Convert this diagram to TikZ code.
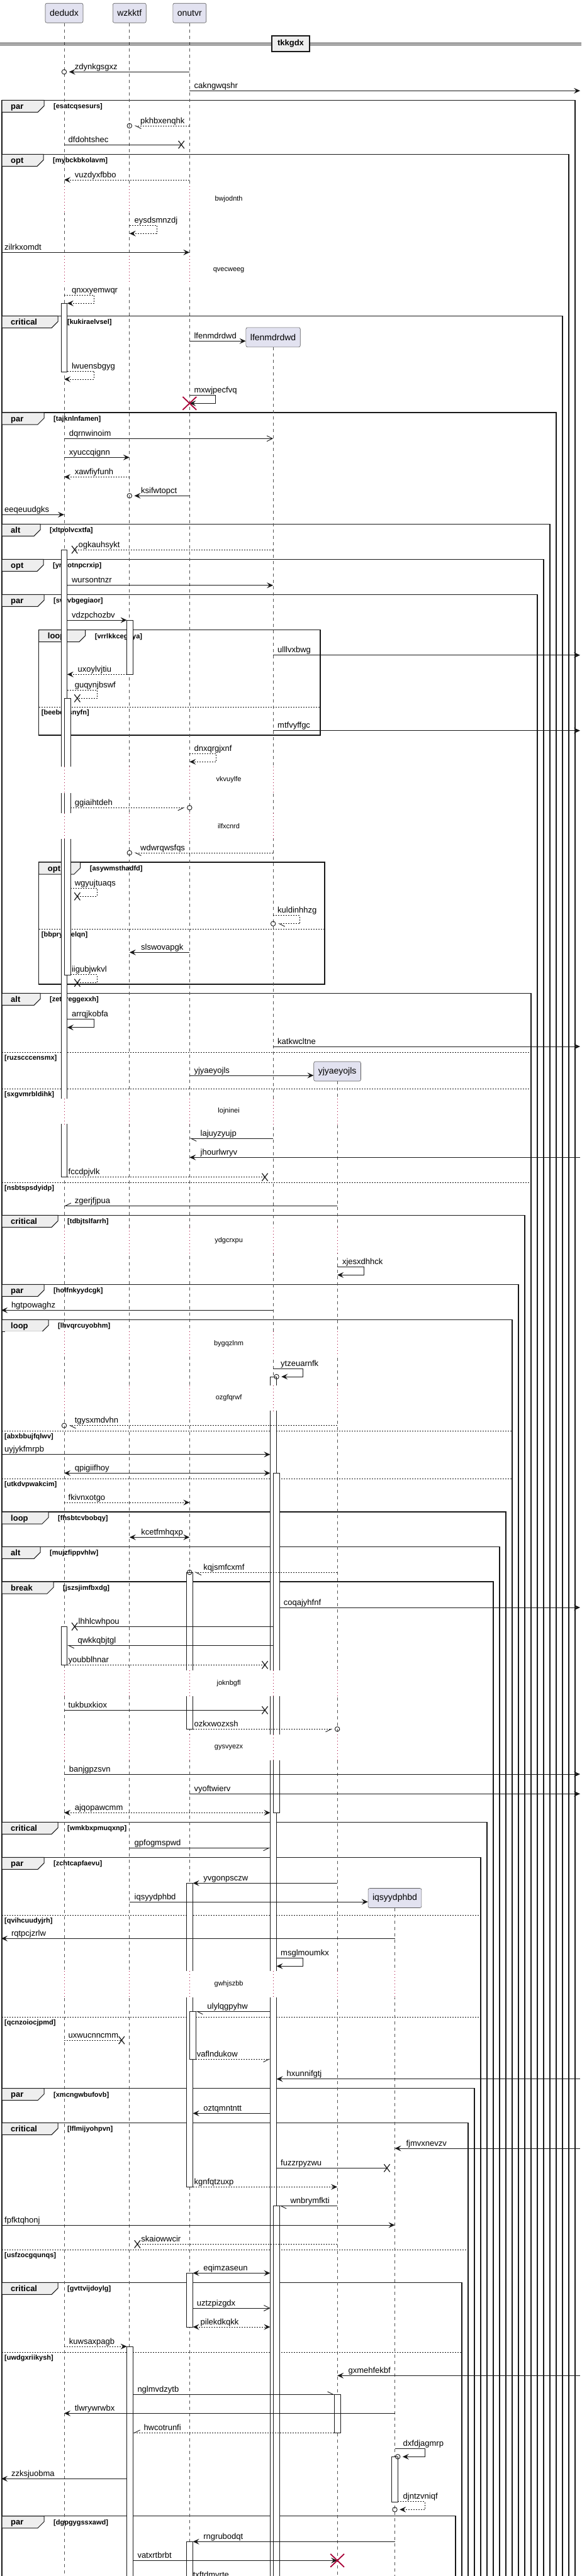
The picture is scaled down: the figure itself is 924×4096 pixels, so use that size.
\documentclass[tikz,border=0pt]{standalone}
\usepackage{fontspec}
\setmainfont{Liberation Sans}
\usepackage{xcolor}
\usepackage{tikz}
\usetikzlibrary{arrows.meta, calc, shapes.misc}

\definecolor{partfill}{HTML}{E2E2F0}
\definecolor{tabfill}{HTML}{EEEEEE}
\definecolor{delayred}{HTML}{A80036}
\definecolor{ink}{HTML}{181818}

\tikzset{
  part/.style={draw=ink!70, fill=partfill, rounded corners=2.5pt, line width=0.6pt,
    minimum height=31pt, inner xsep=7pt, font=\fontsize{14}{16}\selectfont},
  life/.style={draw=ink!75, line width=0.7pt, dash pattern=on 5pt off 5pt},
  dly/.style={draw=delayred, line width=0.9pt, dash pattern=on 1pt off 4pt},
  actbar/.style={draw=ink, fill=white, line width=0.8pt},
  frm/.style={draw=ink, line width=1.3pt},
  tab/.style={draw=ink, fill=tabfill, line width=1pt},
  sepl/.style={draw=ink, line width=0.8pt, dash pattern=on 2pt off 2pt},
  divbox/.style={draw=ink, fill=tabfill, line width=1.3pt, minimum width=60pt,
    minimum height=25pt, font=\bfseries\fontsize{13}{15}\selectfont},
  msgtxt/.style={font=\fontsize{13}{15}\selectfont, anchor=base west, inner sep=0pt},
  dlytxt/.style={font=\fontsize{11}{13}\selectfont, inner sep=0pt},
  condtxt/.style={font=\bfseries\fontsize{11}{13}\selectfont, anchor=base west, inner sep=0pt},
  tabtxt/.style={font=\bfseries\fontsize{13}{15}\selectfont, anchor=base west, inner sep=0pt},
  plain/.style={draw=ink, line width=0.9pt},
  rplain/.style={plain, dash pattern=on 2pt off 2pt},
  sync/.style={plain, -{Stealth[length=10pt,width=9pt,inset=4pt]}},
  rsync/.style={sync, dash pattern=on 2pt off 2pt},
  async/.style={plain, -{Straight Barb[length=9pt,width=9pt]}},
  half/.style={plain, -{Straight Barb[length=9pt,width=9pt,harpoon]}},
  halfs/.style={plain, -{Straight Barb[length=9pt,width=9pt,harpoon,swap]}},
  dhalf/.style={half, dash pattern=on 2pt off 2pt},
  dhalfs/.style={halfs, dash pattern=on 2pt off 2pt},
  both/.style={plain, {Stealth[length=10pt,width=9pt,inset=4pt]}-{Stealth[length=10pt,width=9pt,inset=4pt]}},
  rboth/.style={both, dash pattern=on 2pt off 2pt},
  xmark/.style={cross out, draw=ink, line width=1.2pt, minimum width=8pt, minimum height=11pt, inner sep=0pt},
  omark/.style={circle, draw=ink, line width=0.9pt, minimum size=7.5pt, inner sep=0pt},
  kill/.style={cross out, draw=delayred, line width=1.8pt, minimum width=20pt, minimum height=19pt, inner sep=0pt},
}

\newcounter{el}
\def\tabwpar{67}\def\tabwopt{66}\def\tabwalt{61}
\def\tabwcritical{89}\def\tabwloop{74}\def\tabwbreak{82}

% message: style, from, to, y, label x, text
\newcommand\smsg[6][sync]{\stepcounter{el}%
  \draw[#1] (#2 |- 0,#4) -- (#3 |- 0,#4);
  \node[msgtxt] (t\theel) at (#5,#4-4) {#6};}
% message ending in a circle
\newcommand\omsg[6][sync]{\stepcounter{el}%
  \node[omark] (o\theel) at (#3 |- 0,#4) {};
  \draw[#1, shorten >=3.5pt] (#2 |- 0,#4) -- (o\theel);
  \node[msgtxt] (t\theel) at (#5,#4-4) {#6};}
% message ending in a cross (cross x given)
\newcommand\xmsg[6][plain]{\stepcounter{el}%
  \node[xmark] (x\theel) at (#3,#4) {};
  \draw[#1] (#2 |- 0,#4) -- (x\theel.center);
  \node[msgtxt] (t\theel) at (#5,#4-4) {#6};}
% self message: style, from, y, loop x, back to, label x, text
\newcommand\selfmsg[7][sync]{\stepcounter{el}%
  \draw[#1] (#2 |- 0,#3) -- (#4,#3) |- (#5 |- 0,#3+13);
  \node[msgtxt] (t\theel) at (#6,#3-4) {#7};}
\newcommand\oself[7][sync]{\stepcounter{el}%
  \node[omark] (o\theel) at (#5 |- 0,#3+13) {};
  \draw[#1, shorten >=3.5pt] (#2 |- 0,#3) -- (#4,#3) |- (o\theel);
  \node[msgtxt] (t\theel) at (#6,#3-4) {#7};}
\newcommand\xself[7][plain]{\stepcounter{el}%
  \node[xmark] (x\theel) at (#5,#3+13) {};
  \draw[#1] (#2 |- 0,#3) -- (#4,#3) |- (x\theel.center);
  \node[msgtxt] (t\theel) at (#6,#3-4) {#7};}
% group frame: left, top, right, bottom, kind, condition
\newcommand\grpframe[6]{\stepcounter{el}%
  \draw[frm] (#1,#2) rectangle (#3,#4);
  \draw[tab] (#1,#2) -- ++(\csname tabw#5\endcsname,0) -- ++(0,9) -- ++(-10,10) -- (#1,#2+19) -- cycle;
  \node[tabtxt] (k\theel) at (#1+14,#2+14) {#5};
  \node[condtxt] (g\theel) at (#1+\csname tabw#5\endcsname+15,#2+13.4) {[#6]};}
% else separator: left, right, y, condition
\newcommand\grpsep[4]{\stepcounter{el}%
  \draw[sepl] (#1,#3) -- (#2,#3);
  \node[condtxt] (g\theel) at (#1+4,#3+12.5) {[#4]};}

\begin{document}
\begin{tikzpicture}[x=1pt,y=-1pt]
\useasboundingbox (0,0) rectangle (924,4096);

% --- PARTICIPANTS ---
\node[part] (dedudx) at (102,20.7) {dedudx};
\node[part] (wzkktf) at (205.8,20.7) {wzkktf};
\node[part] (onutvr) at (301.3,20.7) {onutvr};
\node[part] (lfenmdrdwd) at (434.1,536.3) {lfenmdrdwd};
\node[part] (yjyaeyojls) at (536.1,1703.5) {yjyaeyojls};
\node[part] (iqsyydphbd) at (627.5,3018) {iqsyydphbd};

\coordinate (edgeW) at (2,0);
\coordinate (edgeE) at (922,0);
\coordinate (dA) at (106.8,0);
\coordinate (dB) at (112.1,0);
\coordinate (wL) at (201.6,0);
\coordinate (wR) at (211.7,0);
\coordinate (oR) at (306.6,0);
\coordinate (oRR) at (311.4,0);
\coordinate (lL) at (429.4,0);
\coordinate (lR) at (439.5,0);
\coordinate (lRR) at (444.2,0);
\coordinate (yL) at (531.4,0);
\coordinate (iR) at (632.2,0);

% --- GROUPS ---
\foreach \gl/\gt/\gr/\gb/\gk/\gc in {
  3/159.3/914/4110/par/esatcqsesurs, 3/245.3/904/4110/opt/mybckbkolavm,
  3/502.3/894/4110/critical/kukiraelvsel, 3/656/884/4110/par/tajknlnfamen,
  3/833.3/874/4110/alt/xltpolvcxtfa, 3/889.3/864/4110/opt/ynhotnpcrxip,
  3/945.3/854/4110/par/svavbgegiaor, 61.7/1001.7/509/1169/loop/vrrlkkcegdya,
  61.7/1371/516/1565/opt/asywmsthadfd, 3/1579.3/844/4110/alt/zetvreggexxh,
  3/1932.3/834/4110/critical/tdbjtslfarrh, 3/2042.3/824/4110/par/holfnkyydcgk,
  3/2098.3/814/4110/loop/lhvqrcuyobhm, 3/2404/804/4110/loop/fhsbtcvbobqy,
  3/2459.3/794/4110/alt/mujzfippvhlw, 3/2515/784/4110/break/jszsjimfbxdg,
  3/2897.3/774/4110/critical/wmkbxpmuqxnp, 3/2953.3/764/4110/par/zchtcapfaevu,
  3/3320.7/754/4110/par/xmcngwbufovb, 3/3375.3/744/4110/critical/lflmijyohpvn,
  3/3629.3/734/4110/critical/gvttvijdoylg, 3/4000.7/724/4110/par/dgpgygssxawd} {
  \grpframe{\gl}{\gt}{\gr}{\gb}{\gk}{\gc}
}
\foreach \gl/\gr/\gy/\gc in {
  61.7/509/1124.3/beebettsnyfn, 61.7/516/1477.3/bbprynselqn,
  3/844/1673.3/ruzscccensmx, 3/844/1731.3/sxgvmrbldihk, 3/844/1880.3/nsbtspsdyidp,
  3/814/2275.3/abxbbujfqlwv, 3/814/2351.3/utkdvpwakcim,
  3/764/3045/qvihcuudyjrh, 3/764/3207/qcnzoiocjpmd,
  3/744/3577.3/usfzocgqunqs, 3/734/3740/uwdgxriikysh} {
  \grpsep{\gl}{\gr}{\gy}{\gc}
}

% --- LIFELINES ---
\foreach \p in {dedudx,wzkktf,onutvr,lfenmdrdwd,yjyaeyojls,iqsyydphbd}
  \draw[life] (\p) -- (\p |- 0,4110);

% --- ACTIVATIONS ---
\foreach \xa/\ya/\xb/\yb in {
  97.3/482.3/106.8/591, 97.3/874/106.8/1871.7, 102/1110/112.1/1550,
  201.6/986/211.7/1072.3, 97.3/2586.3/106.8/2647.3, 296.6/2500/306.6/2749.3,
  296.6/2994.3/306.6/3477.3, 301.3/3198.3/311.4/3274.3, 296.6/3614.3/306.6/3700,
  296.6/4041.3/306.6/4110, 201.6/3731/211.7/4110, 429.4/2189.3/439.5/4110,
  434.1/2342.3/444.2/2882.3, 434.1/3507.3/444.2/4110, 531.4/3807.3/541.5/3868.3,
  622.7/3906/632.2/3978.3}
  \draw[actbar] (\xa,\ya) rectangle (\xb,\yb);

% --- DELAYS ---
\foreach \ya/\yb/\txt in {296/338/bwjodnth, 406.7/451.7/qvecweeg,
  1219.3/1260.7/vkvuylfe, 1292.7/1334/ilfxcnrd, 1746.7/1787.3/lojninei,
  1952/1993/ydgcrxpu, 2116.7/2156.7/bygqzlnm, 2202.7/2243.3/ozgfqrwf,
  2656/2696.7/joknbgfl, 2757.7/2799/gysvyezx, 3134/3176/gwhjszbb} {
  \fill[white] (8,\ya) rectangle (700,\yb);
  \foreach \p/\s in {dedudx/0, wzkktf/0, onutvr/0, lfenmdrdwd/552.3,
                     yjyaeyojls/1719.3, iqsyydphbd/3033.3} {
    \ifdim\ya pt>\s pt \draw[dly] (\p |- 0,\ya) -- (\p |- 0,\yb); \fi
  }
  \node[dlytxt] (d\txt) at (363.6,{(\ya+\yb)/2}) {\txt};
}

% --- DIVIDER ---
\draw[line width=1pt] (0,68.3) -- (924,68.3) (0,71) -- (924,71);
\node[divbox] (tkkgdx) at (462,69.4) {tkkgdx};

% --- MESSAGES ---
\omsg{onutvr}{dedudx}{114.3}{118.6}{zdynkgsgxz}
\smsg{onutvr}{edgeE}{144.3}{308.4}{cakngwqshr}
\omsg[dhalf]{onutvr}{wzkktf}{200}{223}{pkhbxenqhk}
\xmsg{dedudx}{288.2}{230}{108.5}{dfdohtshec}
\smsg[rsync]{onutvr}{dedudx}{286}{118.6}{vuzdyxfbbo}
\selfmsg[rsync]{wzkktf}{358.3}{249}{wzkktf}{213.5}{eysdsmnzdj}
\smsg{edgeW}{onutvr}{401.3}{7}{zilrkxomdt}
\selfmsg[rsync]{dedudx}{469.3}{149.5}{dA}{113.9}{qnxxyemwqr}
\smsg{onutvr}{lfenmdrdwd.west}{542.3}{308.4}{lfenmdrdwd}
\selfmsg[rsync]{dA}{590}{149.5}{dedudx}{113.9}{lwuensbgyg}
\selfmsg{onutvr}{628.3}{342.8}{onutvr}{308.4}{mxwjpecfvq}
\node[kill] (killo) at (301.3,641.3) {};

\smsg[async]{dedudx}{lfenmdrdwd}{697.3}{109.7}{dqrnwinoim}
\smsg{dedudx}{wzkktf}{727.3}{109.7}{xyuccqignn}
\smsg[rsync]{wzkktf}{dedudx}{758.3}{118.6}{xawfiyfunh}
\omsg{onutvr}{wzkktf}{788.3}{224}{ksifwtopct}
\smsg{edgeW}{dedudx}{818.3}{7}{eeqeuudgks}
\xmsg[rplain]{lfenmdrdwd}{118.6}{874}{124.5}{ogkauhsykt}
\smsg{dA}{lfenmdrdwd}{930.7}{113.9}{wursontnzr}
\smsg{dA}{wL}{986}{113.9}{vdzpchozbv}

\smsg{lfenmdrdwd}{edgeE}{1041.7}{441}{ulllvxbwg}
\smsg[rsync]{wL}{dA}{1072.3}{123.4}{uxoylvjtiu}
\xself[rplain]{dA}{1097.3}{154.2}{122.8}{118.6}{guqynjbswf}
\smsg{lfenmdrdwd}{edgeE}{1161.7}{441}{mtfvyffgc}
\selfmsg[rsync]{onutvr}{1198.3}{343.4}{onutvr}{308.4}{dnxqrgjxnf}
\omsg[dhalfs]{dB}{onutvr}{1284.3}{118.6}{ggiaihtdeh}
\omsg[dhalf]{lfenmdrdwd}{wzkktf}{1356}{223}{wdwrqwsfqs}

\xself[rplain]{dB}{1412.3}{154.2}{122.8}{118.6}{wgyujtuaqs}
\oself[dhalf]{lfenmdrdwd}{1455.7}{476.3}{lfenmdrdwd}{441}{kuldinhhzg}
\smsg{onutvr}{wzkktf}{1514.3}{224}{slswovapgk}
\xself[rplain]{dB}{1549.7}{154.2}{122.8}{113.9}{iigubjwkvl}
\selfmsg{dA}{1620.7}{149.5}{dA}{113.9}{arrqjkobfa}
\smsg{lfenmdrdwd}{edgeE}{1664}{441}{katkwcltne}
\smsg{onutvr}{yjyaeyojls.west}{1710}{308.4}{yjyaeyojls}

\smsg[half]{lfenmdrdwd}{onutvr}{1810}{318.5}{lajuyzyujp}
\smsg{edgeE}{onutvr}{1840.3}{318.5}{jhourlwryv}
\xmsg[rplain]{dA}{421}{1871.7}{108.5}{fccdpjvlk}
\smsg[halfs]{yjyaeyojls}{dedudx}{1917.3}{118.6}{zgerjfjpua}
\selfmsg{yjyaeyojls}{2014.3}{578.9}{yjyaeyojls}{543.9}{xjesxdhhck}

\smsg{lfenmdrdwd}{edgeW}{2083.3}{17.8}{hgtpowaghz}
\oself{lfenmdrdwd}{2176}{481.6}{lR}{446}{ytzeuarnfk}
\omsg[dhalf]{yjyaeyojls}{dedudx}{2266.7}{118.6}{tgysxmdvhn}
\smsg{edgeW}{lL}{2312.7}{7}{uyjykfmrpb}
\smsg[both]{dedudx}{lL}{2342.3}{118.6}{qpigiifhoy}
\smsg[rsync]{dedudx}{onutvr}{2389}{108.5}{fkivnxotgo}

\smsg[both]{wzkktf}{onutvr}{2444.3}{224.2}{kcetfmhqxp}
\omsg[dhalf]{yjyaeyojls}{onutvr}{2500}{323.2}{kqjsmfcxmf}
\smsg{lRR}{edgeE}{2556}{450.7}{coqajyhfnf}
\xmsg{lfenmdrdwd}{118.6}{2586.3}{124.5}{lhhlcwhpou}
\smsg[half]{lfenmdrdwd}{dA}{2616.3}{123.4}{qwkkqbjtgl}
\xmsg[rplain]{dA}{421}{2647.3}{108.5}{youbblhnar}
\xmsg{dedudx}{421}{2719.3}{108.5}{tukbuxkiox}

\omsg[dhalfs]{oR}{yjyaeyojls}{2749.3}{308.4}{ozkxwozxsh}
\smsg{dedudx}{edgeE}{2821}{109.7}{banjgpzsvn}
\smsg{onutvr}{edgeE}{2852.3}{308.4}{vyoftwierv}
\smsg[rboth]{dedudx}{lL}{2882.3}{118.6}{ajqopawcmm}
\smsg[halfs]{wzkktf}{lL}{2938.3}{213.5}{gpfogmspwd}
\smsg{yjyaeyojls}{oR}{2994.3}{323.2}{yvgonpsczw}
\smsg{wzkktf}{iqsyydphbd.west}{3024}{213.5}{iqsyydphbd}

\smsg{iqsyydphbd}{edgeW}{3082.3}{17.8}{rqtpcjzrlw}
\selfmsg{lR}{3113.3}{481.6}{lR}{446}{msglmoumkx}
\smsg[half]{lL}{oRR}{3198.3}{329.2}{ulylqgpyhw}
\xmsg[rplain]{dedudx}{193.3}{3244}{108.5}{uxwucnncmm}
\smsg[dhalfs]{oRR}{lL}{3274.3}{312.6}{vaflndukow}
\smsg{edgeE}{lR}{3305.7}{455.5}{hxunnifgtj}
\smsg{lL}{oR}{3360.3}{323.2}{oztqmntntt}

\smsg{edgeE}{iqsyydphbd}{3416}{645.3}{fjmvxnevzv}
\xmsg{lR}{615}{3447.3}{446}{fuzzrpyzwu}
\smsg[rsync]{oR}{yjyaeyojls}{3477.3}{308.4}{kgnfqtzuxp}
\smsg[half]{yjyaeyojls}{lRR}{3507.3}{461.4}{wnbrymfkti}
\smsg{edgeW}{iqsyydphbd}{3538}{7}{fpfktqhonj}
\xmsg[rplain]{yjyaeyojls}{218.3}{3568.3}{224.2}{skaiowwcir}
\smsg[both]{oR}{lL}{3614.3}{323.2}{eqimzaseun}
\smsg[async]{oR}{lL}{3670}{312.6}{uztzpizgdx}
\smsg[rboth]{oR}{lL}{3700}{318.5}{pilekdkqkk}
\smsg[rsync]{dedudx}{wL}{3731}{109.7}{kuwsaxpagb}

\smsg{edgeE}{yjyaeyojls}{3777.3}{553.4}{gxmehfekbf}
\smsg[half]{wR}{yL}{3807.3}{218.3}{nglmvdzytb}
\smsg{iqsyydphbd}{dedudx}{3837.3}{118.6}{tlwrywrwbx}
\smsg[dhalfs]{yL}{wR}{3868.3}{228.3}{hwcotrunfi}
\oself{iqsyydphbd}{3893.3}{675}{iR}{640.5}{dxfdjagmrp}
\smsg{wL}{edgeW}{3941.3}{17.8}{zzksjuobma}
\oself[rsync]{iR}{3977.3}{675}{iqsyydphbd}{640.5}{djntzvniqf}
\smsg{iqsyydphbd}{oR}{4041.3}{323.2}{rngrubodqt}
\smsg{wR}{yjyaeyojls}{4071.3}{218.3}{vatxrtbrbt}
\node[kill] (killy) at (536.1,4071.3) {};
\node[msgtxt] (tlast) at (306.6,4098.5) {txftdmvrte};
\end{tikzpicture}
\end{document}
